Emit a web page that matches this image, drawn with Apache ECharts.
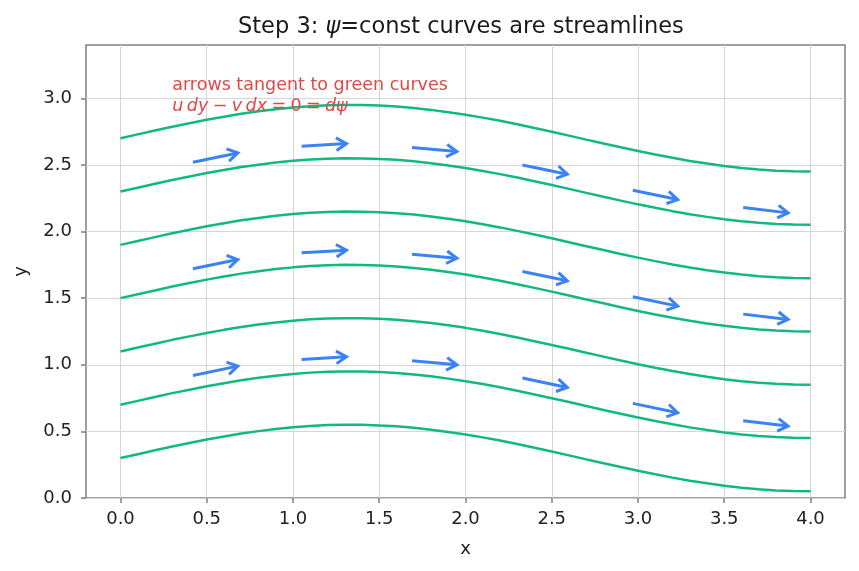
<!DOCTYPE html>
<html>
<head>
<meta charset="utf-8">
<script src="https://cdn.jsdelivr.net/npm/echarts@6/dist/echarts.min.js"></script>
<style>
  html, body { margin: 0; padding: 0; background: #fff; }
  #chart { width: 859px; height: 571px; }
</style>
</head>
<body>
<div id="chart"></div>
<script>
// sample x positions along each curve
const xs = [0, 0.1, 0.2, 0.3, 0.4, 0.5, 0.6, 0.7, 0.8, 0.9, 1.0, 1.1, 1.2, 1.3, 1.4, 1.5, 1.6, 1.7, 1.8, 1.9, 2.0,
            2.1, 2.2, 2.3, 2.4, 2.5, 2.6, 2.7, 2.8, 2.9, 3.0, 3.1, 3.2, 3.3, 3.4, 3.5, 3.6, 3.7, 3.8, 3.9, 4.0];
// shape of every green curve relative to its start level
const profile = [0, 0.029, 0.058, 0.087, 0.113, 0.139, 0.162, 0.184, 0.202, 0.218, 0.231, 0.241, 0.247, 0.250, 0.249, 0.245, 0.238, 0.227, 0.213, 0.196, 0.177,
                 0.155, 0.131, 0.105, 0.077, 0.049, 0.020, -0.010, -0.039, -0.068, -0.096, -0.122, -0.147, -0.170, -0.190, -0.208, -0.223, -0.235, -0.243, -0.248, -0.25];
// psi levels = y at x = 0
const levels = [0.3, 0.7, 1.1, 1.5, 1.9, 2.3, 2.7];

// arrows: [x0, y0, x1, y1]
const arrowsTop = [[0.42, 2.52, 0.68, 2.59], [1.05, 2.64, 1.31, 2.66], [1.69, 2.63, 1.95, 2.60], [2.33, 2.50, 2.59, 2.43], [2.97, 2.31, 3.23, 2.24], [3.61, 2.18, 3.87, 2.14]];
const arrowsMid = [[0.42, 1.72, 0.68, 1.79], [1.05, 1.84, 1.31, 1.86], [1.69, 1.83, 1.95, 1.80], [2.33, 1.70, 2.59, 1.63], [2.97, 1.51, 3.23, 1.44], [3.61, 1.38, 3.87, 1.34]];
const arrowsLow = [[0.42, 0.92, 0.68, 0.99], [1.05, 1.04, 1.31, 1.06], [1.69, 1.03, 1.95, 1.00], [2.33, 0.90, 2.59, 0.83], [2.97, 0.71, 3.23, 0.64], [3.61, 0.58, 3.87, 0.54]];

const xTicks = [0, 0.5, 1, 1.5, 2, 2.5, 3, 3.5, 4];
const yTicks = [0, 0.5, 1, 1.5, 2, 2.5, 3];

const FONT = "DejaVu Sans";
const GREEN = "#10b981";
const BLUE = "#3b82f6";
const RED = "#e04848";
const AXIS = "#808080";

const chart = echarts.init(document.getElementById("chart"));

const curveSeries = levels.map(lv => ({
  type: "line",
  data: xs.map((x, i) => [x, +(lv + profile[i]).toFixed(3)]),
  showSymbol: false,
  lineStyle: { color: GREEN, width: 2.5 },
  z: 3,
  silent: true
}));

function renderArrow(params, api) {
  const p0 = api.coord([api.value(0), api.value(1)]);
  const p1 = api.coord([api.value(2), api.value(3)]);
  const ang = Math.atan2(p1[1] - p0[1], p1[0] - p0[0]);
  const L = 12, W = 0.55;
  const a1 = [p1[0] - L * Math.cos(ang - W), p1[1] - L * Math.sin(ang - W)];
  const a2 = [p1[0] - L * Math.cos(ang + W), p1[1] - L * Math.sin(ang + W)];
  const st = { stroke: BLUE, lineWidth: 3, fill: null, lineCap: "butt", lineJoin: "miter" };
  return {
    type: "group",
    children: [
      { type: "polyline", shape: { points: [p0, p1] }, style: st },
      { type: "polyline", shape: { points: [a1, p1, a2] }, style: st }
    ]
  };
}

const tickLabel = {
  fontFamily: FONT,
  fontSize: 18,
  color: "#222",
  formatter: v => v.toFixed(1)
};

const option = {
  animation: false,
  title: {
    text: "{n|Step 3: }{i|ψ}{n|=const curves are streamlines}",
    left: 233,
    top: 11,
    textStyle: {
      rich: {
        n: { fontFamily: FONT, fontSize: 22.5, fontWeight: "normal", color: "#1a1a1a" },
        i: { fontFamily: FONT, fontSize: 22.5, fontWeight: "normal", fontStyle: "italic", color: "#1a1a1a" }
      }
    }
  },
  grid: {
    left: 86, right: 14, top: 45, bottom: 73,
    show: true, borderColor: AXIS, borderWidth: 1.5, backgroundColor: "transparent"
  },
  xAxis: {
    type: "value",
    min: -0.2,
    max: 4.2,
    name: "x",
    nameLocation: "middle",
    nameGap: 42,
    nameTextStyle: { fontFamily: FONT, fontSize: 18, color: "#222" },
    axisLine: { show: false, onZero: false },
    axisTick: { show: true, length: 5, lineStyle: { color: AXIS, width: 1.5 }, customValues: xTicks },
    axisLabel: Object.assign({ margin: 12, customValues: xTicks }, tickLabel),
    splitLine: { show: true, lineStyle: { color: "#d6d6d6", width: 1 } }
  },
  yAxis: {
    type: "value",
    min: 0,
    max: 3.4,
    name: "y",
    nameLocation: "middle",
    nameGap: 56,
    nameTextStyle: { fontFamily: FONT, fontSize: 18, color: "#222" },
    axisLine: { show: false, onZero: false },
    axisTick: { show: true, length: 5, lineStyle: { color: AXIS, width: 1.5 }, customValues: yTicks },
    axisLabel: Object.assign({ margin: 14, customValues: yTicks }, tickLabel),
    splitLine: { show: true, lineStyle: { color: "#d6d6d6", width: 1 } }
  },
  series: curveSeries.concat([
    {
      type: "custom",
      renderItem: renderArrow,
      data: arrowsTop.concat(arrowsMid, arrowsLow),
      encode: { x: [0, 2], y: [1, 3] },
      z: 4,
      silent: true
    }
  ])
};

chart.setOption(option);

// annotation text anchored at data coordinates
const p1 = chart.convertToPixel({ gridIndex: 0 }, [0.3, 3.1]);
const p2 = chart.convertToPixel({ gridIndex: 0 }, [0.3, 2.94]);
chart.setOption({
  graphic: [
    {
      type: "text",
      x: p1[0], y: p1[1],
      style: { text: "arrows tangent to green curves", fontFamily: FONT, fontSize: 17.5, fill: RED, verticalAlign: "middle" },
      z: 10
    },
    {
      type: "text",
      x: p2[0], y: p2[1],
      style: {
        text: "{i|u\u2009dy}\u2005−\u2005{i|v\u2009dx}\u2005=\u20050\u2005=\u2005{i|dψ}",
        fontFamily: FONT, fontSize: 17.5, fill: RED, verticalAlign: "middle",
        rich: { i: { fontFamily: FONT, fontSize: 17.5, fontStyle: "italic", fill: RED } }
      },
      z: 10
    }
  ]
});

window.addEventListener("resize", () => chart.resize());
</script>
</body>
</html>
